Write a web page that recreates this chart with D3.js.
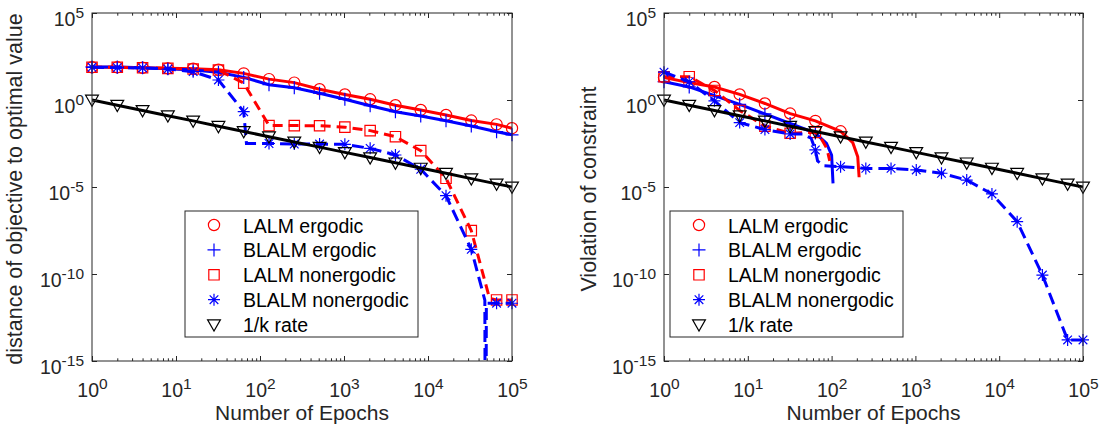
<!DOCTYPE html>
<html>
<head>
<meta charset="utf-8">
<script src="https://cdn.jsdelivr.net/npm/d3@7"></script>
<style>
  body { margin: 0; background: #fff; }
  svg { display: block; font-family: "Liberation Sans", Arial, Helvetica, sans-serif; }
</style>
</head>
<body>
<svg width="1102" height="427"></svg>
<script>
// epochs where markers are drawn
const markerEpochs = [1, 2, 4, 8, 16, 32, 64, 128, 256, 512, 1024, 2048, 4096, 8192, 16384, 32768, 65536, 100000];
const xTicks = [1, 10, 100, 1000, 10000, 100000];
const yTicks = [1e-15, 1e-10, 1e-5, 1, 1e5];
const seriesNames = ["LALM ergodic", "BLALM ergodic", "LALM nonergodic", "BLALM nonergodic", "1/k rate"];

// left panel: [epoch, log10 of distance of objective to optimal value]
const objLalmErg = [[1, 1.88], [2, 1.88], [4, 1.85], [8, 1.82], [16, 1.8], [32, 1.74], [64, 1.53], [128, 1.2], [256, 1.0],
  [512, 0.62], [1024, 0.32], [2048, 0.04], [4096, -0.3], [8192, -0.57], [16384, -0.86], [32768, -1.18], [65536, -1.4], [100000, -1.62]];
const objBlalmErg = [[1, 1.9], [2, 1.89], [4, 1.85], [8, 1.8], [16, 1.72], [32, 1.6], [64, 1.3], [128, 0.88], [256, 0.7],
  [512, 0.39], [1024, 0.04], [2048, -0.33], [4096, -0.67], [8192, -0.92], [16384, -1.19], [32768, -1.49], [65536, -1.82], [100000, -2.0]];
const objLalmNon = [[1, 1.88], [2, 1.88], [4, 1.85], [8, 1.82], [16, 1.78], [32, 1.72], [64, 0.97], [128, -1.47], [256, -1.47],
  [512, -1.48], [1024, -1.56], [2048, -1.76], [4096, -2.11], [8192, -2.91], [16384, -4.5], [32768, -7.51], [54000, -11.4], [65536, -11.49], [100000, -11.49]];
const objBlalmNon = [[1, 1.88], [2, 1.86], [4, 1.84], [8, 1.78], [16, 1.63], [32, 1.15], [64, -0.67], [69, -2.5], [128, -2.5],
  [256, -2.53], [512, -2.53], [1024, -2.55], [2048, -2.78], [4096, -3.16], [8192, -3.98], [16384, -5.5], [32768, -8.58],
  [47500, -11.5], [48500, -30], [49500, -11.68], [65536, -11.68], [100000, -11.68]];
const objRate = [[1, 0], [2, -0.3], [4, -0.6], [8, -0.9], [16, -1.2], [32, -1.51], [64, -1.81], [128, -2.11], [256, -2.41],
  [512, -2.71], [1024, -3.01], [2048, -3.31], [4096, -3.61], [8192, -3.91], [16384, -4.21], [32768, -4.52], [65536, -4.82], [100000, -5]];

// right panel: [epoch, log10 of violation of constraint]
const conLalmErg = [[1, 1.3], [2, 1.0], [4, 0.75], [8, 0.32], [16, -0.2], [32, -0.78], [64, -1.2], [128, -1.8],
  [179, -2.45], [205, -3.26], [213, -4.44]];
const conBlalmErg = [[1, 1.05], [2, 0.75], [4, 0.25], [8, -0.25], [16, -0.8], [32, -1.35], [64, -1.9],
  [87, -2.49], [100, -3.16], [104, -4.79]];
const conLalmNon = [[1, 1.34], [2, 1.34], [4, 0.55], [8, -0.6], [16, -1.5], [32, -1.91], [64, -1.86],
  [75, -2.2], [88, -2.8], [95, -3.5]];
const conBlalmNon = [[1, 1.6], [2, 1.05], [4, -0.05], [8, -1.3], [16, -1.7], [32, -1.95], [45, -1.95], [57, -2.2], [64, -2.87],
  [68, -3.5], [80, -3.78], [128, -3.83], [256, -3.93], [512, -3.93], [1024, -4.02], [2048, -4.21], [4096, -4.6], [8192, -5.4],
  [16384, -6.99], [32768, -10.06], [65536, -13.79], [100000, -13.79]];
const conRate = objRate;

const svg = d3.select("svg");
const plotTop = 13, plotBottom = 361;
const axisColor = "#262626";

const styles = [
  { color: "#ff0000", dash: null, marker: "circle" },
  { color: "#0000ff", dash: null, marker: "plus" },
  { color: "#ff0000", dash: "10,6", marker: "square" },
  { color: "#0000ff", dash: "12,6", marker: "asterisk" },
  { color: "#000000", dash: null, marker: "triangle" }
];

const panels = [
  { left: 92, right: 512, ylabel: "distance of objective to optimal value", ylabelX: 22,
    series: [objLalmErg, objBlalmErg, objLalmNon, objBlalmNon, objRate], legend: { x: 185, y: 211, w: 233, h: 126 } },
  { left: 664, right: 1083, ylabel: "Violation of constraint", ylabelX: 596,
    series: [conLalmErg, conBlalmErg, conLalmNon, conBlalmNon, conRate], legend: { x: 670, y: 211, w: 233, h: 126 } }
];

function markerPath(type) {
  switch (type) {
    case "circle": return "M5.6,0A5.6,5.6 0 1,1 -5.6,0A5.6,5.6 0 1,1 5.6,0Z";
    case "plus": return "M-6.5,0H6.5M0,-6.5V6.5";
    case "square": return "M-5.2,-5.2H5.2V5.2H-5.2Z";
    case "asterisk": return "M-6,0H6M0,-6V6M-4.3,-4.3L4.3,4.3M-4.3,4.3L4.3,-4.3";
    case "triangle": return "M-6.4,-4.8H6.4L0,6.4Z";
  }
}

const minorTicks = [];
for (let e = 0; e < 5; e++) for (let k = 2; k <= 9; k++) minorTicks.push(k * Math.pow(10, e));

function supLabels(sel, yPos) {
  sel.selectAll(".tick text").each(function (d) {
    const t = d3.select(this);
    t.text(null).attr("dy", null).attr("y", yPos).attr("fill", axisColor).style("font-size", "19.5px");
    t.append("tspan").text("10");
    t.append("tspan").attr("dy", -8).style("font-size", "15.5px").text(Math.round(Math.log10(d)));
  });
}

panels.forEach((p, pi) => {
  const x = d3.scaleLog().domain([1, 1e5]).range([p.left, p.right]);
  const y = d3.scaleLog().domain([1e-15, 1e5]).range([plotBottom, plotTop]);
  const g = svg.append("g");

  svg.append("clipPath").attr("id", "clip" + pi)
    .append("rect").attr("x", p.left).attr("y", plotTop).attr("width", p.right - p.left).attr("height", plotBottom - plotTop);

  // lines and markers
  const line = d3.line().x(d => x(d[0])).y(d => y(Math.pow(10, d[1])));
  p.series.forEach((s, si) => {
    const st = styles[si];
    g.append("path").datum(s)
      .attr("d", line)
      .attr("clip-path", `url(#clip${pi})`)
      .attr("fill", "none")
      .attr("stroke", st.color)
      .attr("stroke-width", 3)
      .attr("stroke-dasharray", st.dash);
    g.append("g").selectAll("path")
      .data(s.filter(d => markerEpochs.includes(d[0])))
      .join("path")
      .attr("d", markerPath(st.marker))
      .attr("transform", d => `translate(${x(d[0])},${y(Math.pow(10, d[1]))})`)
      .attr("fill", "none")
      .attr("stroke", st.color)
      .attr("stroke-width", 1.2);
  });

  // axes (ticks inward)
  const ax = svg.append("g").attr("color", axisColor);
  const bx = ax.append("g").attr("transform", `translate(0,${plotBottom})`)
    .call(d3.axisBottom(x).tickValues(xTicks).tickSizeInner(-5).tickSizeOuter(0).tickPadding(0));
  bx.select(".domain").remove();
  supLabels(bx, 35.5);
  ax.append("g").attr("transform", `translate(0,${plotBottom})`)
    .call(d3.axisBottom(x).tickValues(minorTicks).tickSizeInner(-2.7).tickSizeOuter(0).tickFormat(""))
    .call(s => s.select(".domain").remove());
  ax.append("g").attr("transform", `translate(0,${plotTop})`)
    .call(d3.axisTop(x).tickValues(xTicks).tickSizeInner(-5).tickSizeOuter(0).tickFormat(""))
    .call(s => s.select(".domain").remove());
  ax.append("g").attr("transform", `translate(0,${plotTop})`)
    .call(d3.axisTop(x).tickValues(minorTicks).tickSizeInner(-2.7).tickSizeOuter(0).tickFormat(""))
    .call(s => s.select(".domain").remove());
  const ly = ax.append("g").attr("transform", `translate(${p.left},0)`)
    .call(d3.axisLeft(y).tickValues(yTicks).tickSizeInner(-5).tickSizeOuter(0).tickPadding(8));
  ly.select(".domain").remove();
  supLabels(ly, 12.5);
  ax.append("g").attr("transform", `translate(${p.right},0)`)
    .call(d3.axisRight(y).tickValues(yTicks).tickSizeInner(-5).tickSizeOuter(0).tickFormat(""))
    .call(s => s.select(".domain").remove());
  ax.selectAll(".tick line").attr("stroke", axisColor);

  ax.append("rect")
    .attr("x", p.left).attr("y", plotTop)
    .attr("width", p.right - p.left).attr("height", plotBottom - plotTop)
    .attr("fill", "none").attr("stroke", axisColor).attr("stroke-width", 1);

  // axis titles
  svg.append("text")
    .attr("x", (p.left + p.right) / 2).attr("y", 420)
    .attr("text-anchor", "middle").attr("fill", axisColor)
    .style("font-size", "21px")
    .text("Number of Epochs");
  svg.append("text")
    .attr("transform", `translate(${p.ylabelX},${(plotTop + plotBottom) / 2 + 2}) rotate(-90)`)
    .attr("text-anchor", "middle").attr("fill", axisColor)
    .style("font-size", "21.5px")
    .text(p.ylabel);

  // legend
  const lg = svg.append("g");
  lg.append("rect")
    .attr("x", p.legend.x).attr("y", p.legend.y)
    .attr("width", p.legend.w).attr("height", p.legend.h)
    .attr("fill", "#fff").attr("stroke", axisColor).attr("stroke-width", 1);
  seriesNames.forEach((name, i) => {
    const cy = p.legend.y + 14 + i * 24.9;
    lg.append("path")
      .attr("d", markerPath(styles[i].marker))
      .attr("transform", `translate(${p.legend.x + 29},${cy})`)
      .attr("fill", "none").attr("stroke", styles[i].color).attr("stroke-width", 1.2);
    lg.append("text")
      .attr("x", p.legend.x + 58).attr("y", cy + 7.5)
      .attr("fill", "#000")
      .style("font-size", "19.5px")
      .text(name);
  });
});
</script>
</body>
</html>
